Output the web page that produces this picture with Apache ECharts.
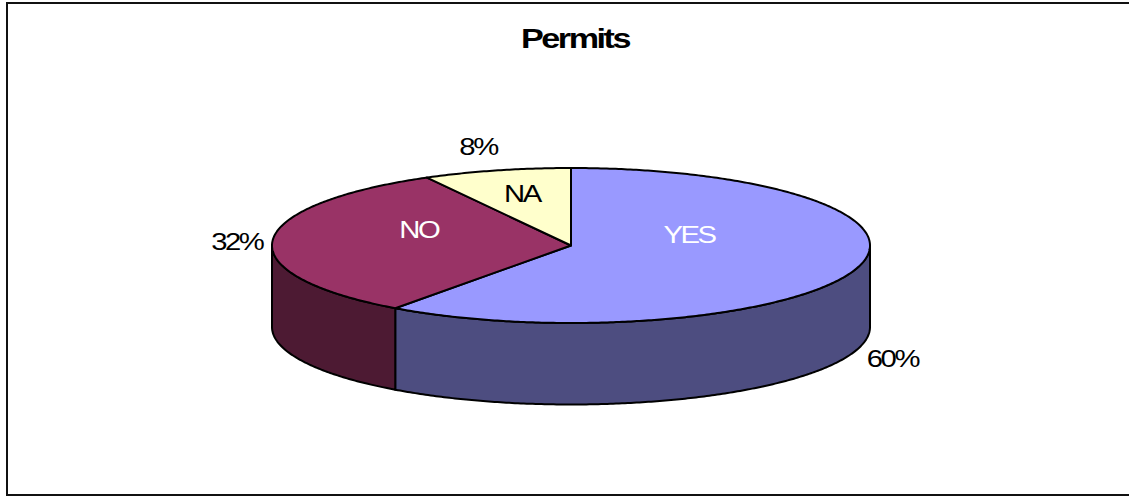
<!DOCTYPE html>
<html><head><meta charset="utf-8">
<style>
html,body{margin:0;padding:0;background:#fff}
#c{width:1129px;height:496px}
#c text{letter-spacing:-2px}
</style>
<script src="https://cdn.jsdelivr.net/npm/echarts@6/dist/echarts.min.js"></script>
</head><body><div id="c"></div>
<script>
var titleText = 'Permits';
var categories = ['YES', 'NO', 'NA'];
var values = [60, 32, 8];
var percentLabels = ['60%', '32%', '8%'];

var topColors = ['#9999FF', '#993366', '#FFFFCC'];
var sideColors = ['#4D4D80', '#4D1A33', '#80806A'];
var nameColors = ['#FFFFFF', '#FFFFFF', '#000000'];
var disc = {cx: 571, cy: 245.5, rx: 299, ry: 77.5, depth: 81.5};
// label placement: fraction of radius along the mid-angle, plus a vertical shift
var nameFrac = [0.415, 0.51, 0.66], nameShift = [-21, -13, -2];
var pctFrac = [1.13, 1.12, 1.25], pctShift = [86, 2, -4.5];
var textStretch = 1.22;

var total = values.reduce(function (a, b) { return a + b; }, 0);
function pt(a, f, dy) {
  return [disc.cx + disc.rx * f * Math.sin(a), disc.cy - disc.ry * f * Math.cos(a) + (dy || 0)];
}
function arc(a0, a1, dy) {
  var out = [], n = Math.max(2, Math.ceil((a1 - a0) / 0.01));
  for (var i = 0; i <= n; i++) out.push(pt(a0 + (a1 - a0) * i / n, 1, dy));
  return out;
}
var line = {stroke: '#000', lineWidth: 2, lineJoin: 'round'};
function st(fill) { return Object.assign({fill: fill}, line); }
function label(pos, text, fill, font) {
  return {type: 'text', z2: 10, x: pos[0], y: pos[1], scaleX: textStretch,
    style: {x: 0, y: 0, text: text, fill: fill, font: font, align: 'center', verticalAlign: 'middle'}};
}

function renderItem(params, api) {
  var i = params.dataIndex, sum = 0;
  for (var k = 0; k < i; k++) sum += values[k];
  var a0 = sum / total * 2 * Math.PI, a1 = (sum + values[i]) / total * 2 * Math.PI, mid = (a0 + a1) / 2;
  var kids = [];
  var s0 = Math.max(a0, Math.PI / 2), s1 = Math.min(a1, 3 * Math.PI / 2);
  if (s1 > s0) {
    var wall = arc(s0, s1, 0).concat(arc(s0, s1, disc.depth).reverse());
    kids.push({type: 'polygon', shape: {points: wall}, style: st(sideColors[i])});
  }
  var top = [[disc.cx, disc.cy]].concat(arc(a0, a1, 0));
  kids.push({type: 'polygon', shape: {points: top}, style: st(topColors[i])});
  kids.push(label(pt(mid, nameFrac[i], nameShift[i]), categories[i], nameColors[i], '24px "Liberation Sans"'));
  kids.push(label(pt(mid, pctFrac[i], pctShift[i]), percentLabels[i], '#000', '24px "Liberation Sans"'));
  return {type: 'group', children: kids};
}

var chart = echarts.init(document.getElementById('c'), null, {renderer: 'svg', width: 1129, height: 496});
chart.setOption({
  animation: false,
  backgroundColor: '#fff',
  graphic: [
    {type: 'polyline', silent: true, z: 0, shape: {points: [[1131, 3], [7, 3], [7, 495], [1131, 495]]},
     style: {stroke: '#111', lineWidth: 2, fill: null}},
    {type: 'text', silent: true, z: 5, x: 575, y: 39, scaleX: textStretch,
     style: {x: 0, y: 0, text: titleText, fill: '#000', font: 'bold 28px "Liberation Sans"', align: 'center', verticalAlign: 'middle'}}
  ],
  series: [{
    type: 'custom', coordinateSystem: 'none', z: 2,
    data: categories.map(function (c, i) { return {name: c, value: values[i]}; }),
    renderItem: renderItem
  }]
});
</script></body></html>
